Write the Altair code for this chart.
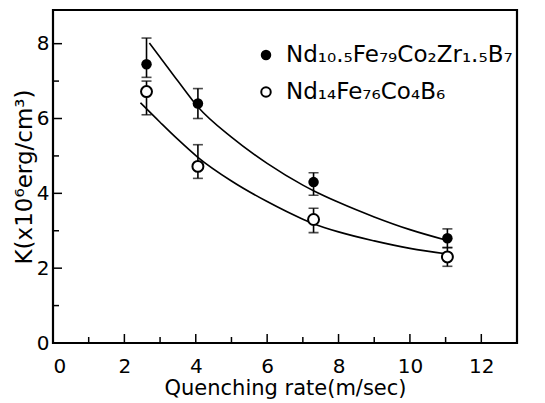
import altair as alt
import pandas as pd

# measured data
rate = [2.62, 4.06, 7.3, 11.05]
k_filled = [7.45, 6.4, 4.3, 2.8]
k_filled_lo = [7.1, 6.0, 3.95, 2.55]
k_filled_hi = [8.15, 6.8, 4.55, 3.05]
k_open = [6.72, 4.72, 3.3, 2.3]
k_open_lo = [6.1, 4.4, 2.95, 2.05]
k_open_hi = [7.0, 5.3, 3.6, 2.55]

# fitted curves
fit_filled_x = [2.7, 3.0, 3.5, 4.05, 5.0, 6.0, 7.0, 7.3, 8.0, 9.0, 10.0, 11.05]
fit_filled_y = [8.02, 7.64, 7.0, 6.32, 5.5, 4.8, 4.22, 4.07, 3.76, 3.37, 3.03, 2.74]
fit_open_x = [2.45, 3.0, 3.5, 4.05, 5.0, 6.0, 7.0, 7.3, 8.0, 9.0, 10.0, 11.05]
fit_open_y = [6.42, 5.9, 5.44, 4.97, 4.33, 3.78, 3.31, 3.19, 2.97, 2.73, 2.53, 2.38]

x_ticks_major = [0, 2, 4, 6, 8, 10, 12]
x_ticks_minor = [1, 3, 5, 7, 9, 11]
y_ticks_major = [0, 2, 4, 6, 8]
y_ticks_minor = [1, 3, 5, 7]

legend_labels = ["Nd\u2081\u2080.\u2085Fe\u2087\u2089Co\u2082Zr\u2081.\u2085B\u2087",
                 "Nd\u2081\u2084Fe\u2087\u2086Co\u2084B\u2086"]

W, H = 464, 333
FONT = "DejaVu Sans"

xs = alt.Scale(domain=[0, 13], nice=False, zero=False)
ys = alt.Scale(domain=[0, 8.9], nice=False, zero=False)

pts = pd.DataFrame({
    "x": rate * 2,
    "y": k_filled + k_open,
    "lo": k_filled_lo + k_open_lo,
    "hi": k_filled_hi + k_open_hi,
    "s": ["filled"] * 4 + ["open"] * 4,
})
fit = pd.DataFrame({
    "x": fit_filled_x + fit_open_x,
    "y": fit_filled_y + fit_open_y,
    "s": ["filled"] * len(fit_filled_x) + ["open"] * len(fit_open_x),
})

X = alt.X("x:Q", scale=xs, title="Quenching rate(m/sec)",
          axis=alt.Axis(values=x_ticks_major, ticks=False, grid=False, domain=False,
                        labelFontSize=20, labelPadding=13, titleFontSize=21,
                        titlePadding=1, labelFont=FONT, titleFont=FONT,
                        titleFontWeight="normal", labelColor="black", titleColor="black"))
Y = alt.Y("y:Q", scale=ys, title="K(x10\u2076erg/cm\u00b3)",
          axis=alt.Axis(values=y_ticks_major, ticks=False, grid=False, domain=False,
                        labelFontSize=20, labelPadding=4, titleFontSize=23,
                        titlePadding=0, labelFont=FONT, titleFont=FONT,
                        titleFontWeight="normal", labelColor="black", titleColor="black"))

lines = alt.Chart(fit).mark_line(color="black", strokeWidth=1.6, interpolate="monotone").encode(
    x=X, y=Y, detail="s:N")

bars = alt.Chart(pts).mark_rule(color="black", strokeWidth=1.6).encode(
    x=alt.X("x:Q", scale=xs), y=alt.Y("lo:Q", scale=ys), y2="hi:Q")
cap_lo = alt.Chart(pts).mark_tick(color="black", thickness=1.6, size=10, orient="horizontal").encode(
    x=alt.X("x:Q", scale=xs), y=alt.Y("lo:Q", scale=ys))
cap_hi = alt.Chart(pts).mark_tick(color="black", thickness=1.6, size=10, orient="horizontal").encode(
    x=alt.X("x:Q", scale=xs), y=alt.Y("hi:Q", scale=ys))

filled_pts = alt.Chart(pts[pts.s == "filled"]).mark_point(
    shape="circle", filled=True, color="black", size=110, opacity=1).encode(
    x=alt.X("x:Q", scale=xs), y=alt.Y("y:Q", scale=ys))
open_pts = alt.Chart(pts[pts.s == "open"]).mark_point(
    shape="circle", filled=True, fill="white", stroke="black", strokeWidth=2, size=120, opacity=1).encode(
    x=alt.X("x:Q", scale=xs), y=alt.Y("y:Q", scale=ys))

# inward ticks
xt = pd.DataFrame({"v": x_ticks_major + x_ticks_minor,
                   "major": [True] * len(x_ticks_major) + [False] * len(x_ticks_minor)})
yt = pd.DataFrame({"v": y_ticks_major + y_ticks_minor,
                   "major": [True] * len(y_ticks_major) + [False] * len(y_ticks_minor)})
xticks_major = alt.Chart(xt[xt.major]).mark_rule(color="black", strokeWidth=1.5).encode(
    x=alt.X("v:Q", scale=xs), y=alt.value(H), y2=alt.value(H - 9))
xticks_minor = alt.Chart(xt[~xt.major]).mark_rule(color="black", strokeWidth=1.5).encode(
    x=alt.X("v:Q", scale=xs), y=alt.value(H), y2=alt.value(H - 6))
yticks_major = alt.Chart(yt[yt.major]).mark_rule(color="black", strokeWidth=1.5).encode(
    y=alt.Y("v:Q", scale=ys), x=alt.value(0), x2=alt.value(9))
yticks_minor = alt.Chart(yt[~yt.major]).mark_rule(color="black", strokeWidth=1.5).encode(
    y=alt.Y("v:Q", scale=ys), x=alt.value(0), x2=alt.value(6))

# frame
frame = alt.Chart(pd.DataFrame({"a": [0]})).mark_rect(
    fill=None, fillOpacity=0, stroke="black", strokeWidth=2.2).encode(
    x=alt.value(0), x2=alt.value(W), y=alt.value(0), y2=alt.value(H))

# legend
leg = pd.DataFrame({"label": legend_labels, "row": [0, 1]})
leg_filled = alt.Chart(leg[leg.row == 0]).mark_point(
    shape="circle", filled=True, color="black", size=110, opacity=1).encode(
    x=alt.value(213), y=alt.value(45))
leg_open = alt.Chart(leg[leg.row == 1]).mark_point(
    shape="circle", filled=True, fill="white", stroke="black", strokeWidth=2, size=90, opacity=1).encode(
    x=alt.value(213), y=alt.value(82))
leg_text1 = alt.Chart(leg[leg.row == 0]).mark_text(
    align="left", baseline="middle", fontSize=23, font=FONT, color="black").encode(
    x=alt.value(233), y=alt.value(45), text="label:N")
leg_text2 = alt.Chart(leg[leg.row == 1]).mark_text(
    align="left", baseline="middle", fontSize=23, font=FONT, color="black").encode(
    x=alt.value(233), y=alt.value(82), text="label:N")

chart = alt.layer(
    lines, bars, cap_lo, cap_hi, filled_pts, open_pts,
    xticks_major, xticks_minor, yticks_major, yticks_minor, frame,
    leg_filled, leg_open, leg_text1, leg_text2,
).properties(
    width=W, height=H,
    autosize=alt.AutoSizeParams(type="none"),
    padding={"left": 45, "top": 2, "right": 20, "bottom": 60},
).configure_view(stroke=None).configure(background="white")

chart.save("out.html", embed_options={"renderer": "svg", "actions": False})
